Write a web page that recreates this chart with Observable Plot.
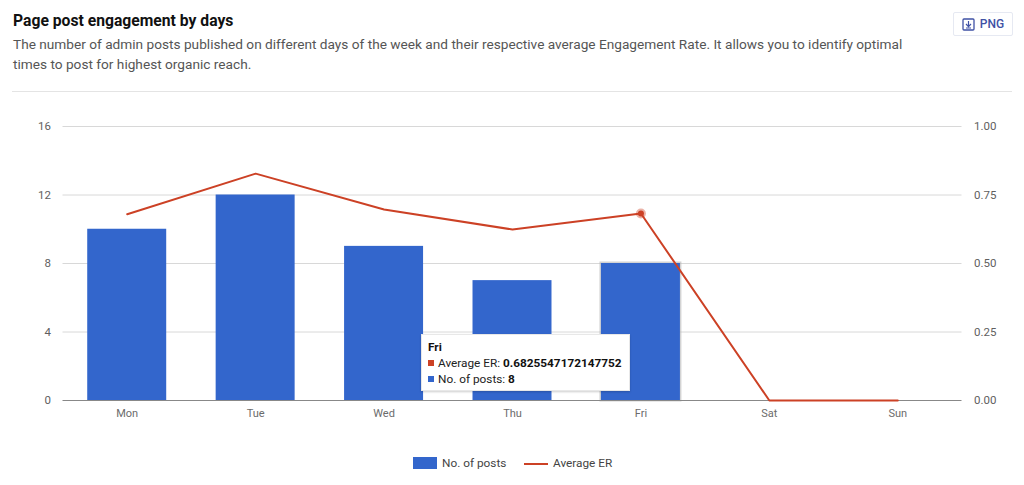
<!DOCTYPE html>
<html>
<head>
<meta charset="utf-8">
<script src="https://cdn.jsdelivr.net/npm/d3@7"></script>
<script src="https://cdn.jsdelivr.net/npm/@observablehq/plot@0.6"></script>
<style>
html,body{margin:0;padding:0;background:#fff;width:1024px;height:485px;overflow:hidden;font-family:Roboto,sans-serif}
#wrap{position:relative;width:1024px;height:485px}
#title{position:absolute;left:13px;top:11px;font-size:15.7px;font-weight:700;color:#111}
#sub{position:absolute;left:13px;top:34px;width:915px;line-height:20px;color:#555;font-size:13.66px}
#rule{position:absolute;left:12px;top:91px;width:1000px;height:1px;background:#e4e4e4}
#png{position:absolute;left:953px;top:12px;width:58px;height:22px;border:1px solid #e6e9f2;border-radius:2px;color:#3f51a5;font-size:12px;font-weight:500;display:flex;align-items:center;justify-content:center;gap:5px;box-sizing:content-box}
#chart{position:absolute;left:0;top:100px}
#legend{position:absolute;left:0;top:455px;width:1024px;height:16px;font:11.8px Roboto,sans-serif;color:#444}
#legend span{position:absolute;top:1px}
#legend i{position:absolute;display:block}
#tip{position:absolute;left:421px;top:334px;width:209px;height:57px;background:#fff;border:1px solid #e8e8e8;box-sizing:border-box;box-shadow:0 1px 2px rgba(0,0,0,.2);font:11.8px/16px Roboto,sans-serif;color:#222;padding:4px 0 0 6px}
#tip b{font-weight:700;color:#111}
#tip i{display:inline-block;width:6px;height:6px;margin-right:4px;vertical-align:1px}
</style>
</head>
<body>
<div id="wrap">
  <div id="title"></div>
  <div id="sub"></div>
  <div id="rule"></div>
  <div id="png"><svg width="13" height="13" viewBox="0 0 13 13"><rect x="1" y="1" width="11" height="11" rx="1" fill="none" stroke="#3f51a5" stroke-width="1.3"/><path d="M6.5 3v5M4 6l2.5 2.6L9 6M4 10h5" fill="none" stroke="#3f51a5" stroke-width="1.2"/></svg><span>PNG</span></div>
  <div id="chart"></div>
  <div id="legend">
    <i style="left:413px;top:2px;width:24px;height:12px;background:#3366cc"></i><span style="left:442px">No. of posts</span>
    <i style="left:524px;top:8px;width:24px;height:2px;background:#cc4125"></i><span style="left:553px">Average ER</span>
  </div>
  <div id="tip"></div>
</div>
<script>
const titleText = "Page post engagement by days";
const subtitleText = "The number of admin posts published on different days of the week and their respective average Engagement Rate. It allows you to identify optimal times to post for highest organic reach.";
const days = ["Mon","Tue","Wed","Thu","Fri","Sat","Sun"];
const posts = [10,12,9,7,8,0,0];
const avgER = [0.68,0.828,0.697,0.624,0.6825547172147752,0,0];
const leftTicks = [0,4,8,12,16];
const rightTicks = ["0.00","0.25","0.50","0.75","1.00"];
const highlightDay = "Fri";
const erMax = 1, postsMax = 16;

document.getElementById("title").textContent = titleText;
document.getElementById("sub").textContent = subtitleText;

const rows = days.map((d,i)=>({day:d,posts:posts[i],er:avgER[i],erY:avgER[i]/erMax*postsMax}));
const hi = rows.filter(r=>r.day===highlightDay);
const blue="#3366cc", red="#cc4125", tickColor="#5f5f5f";

const plot = Plot.plot({
  width:1024,height:330,
  marginTop:26,marginBottom:30,marginLeft:62.5,marginRight:62.5,
  style:{fontFamily:"Roboto,sans-serif",fontSize:"11px",color:tickColor,background:"transparent"},
  x:{domain:days,paddingInner:0.385,paddingOuter:0.1925,round:false,label:null},
  y:{domain:[0,postsMax],label:null},
  marks:[
    Plot.ruleY(leftTicks.filter(t=>t>0),{stroke:"#d8d8d8",strokeWidth:1,strokeOpacity:1}),
    Plot.axisY(leftTicks,{anchor:"left",tickSize:0,tickPadding:12,label:null,fontSize:11.5,color:tickColor}),
    Plot.axisY(leftTicks,{anchor:"right",tickSize:0,tickPadding:12,label:null,fontSize:11.5,color:tickColor,
      tickFormat:t=>rightTicks[leftTicks.indexOf(t)]}),
    Plot.axisX({anchor:"bottom",tickSize:0,tickPadding:9,label:null,fontSize:11,color:"#6b6b6b"}),
    Plot.barY(hi,{x:"day",y:"posts",fill:"none",stroke:"#b5b5b5",strokeWidth:3,strokeOpacity:.6}),
    Plot.barY(rows,{x:"day",y:"posts",fill:blue}),
    Plot.ruleY([0],{stroke:"#888",strokeWidth:1}),
    Plot.line(rows,{x:"day",y:"erY",stroke:red,strokeWidth:2,curve:"linear"}),
    Plot.dot(hi,{x:"day",y:"erY",r:5,fill:red,fillOpacity:.4}),
    Plot.dot(hi,{x:"day",y:"erY",r:3,fill:red})
  ]
});
document.getElementById("chart").appendChild(plot);

const h = rows.find(r=>r.day===highlightDay);
document.getElementById("tip").innerHTML =
  `<b>${h.day}</b><br><i style="background:${red}"></i>Average ER: <b>${h.er}</b><br><i style="background:${blue}"></i>No. of posts: <b>${h.posts}</b>`;
</script>
</body>
</html>
